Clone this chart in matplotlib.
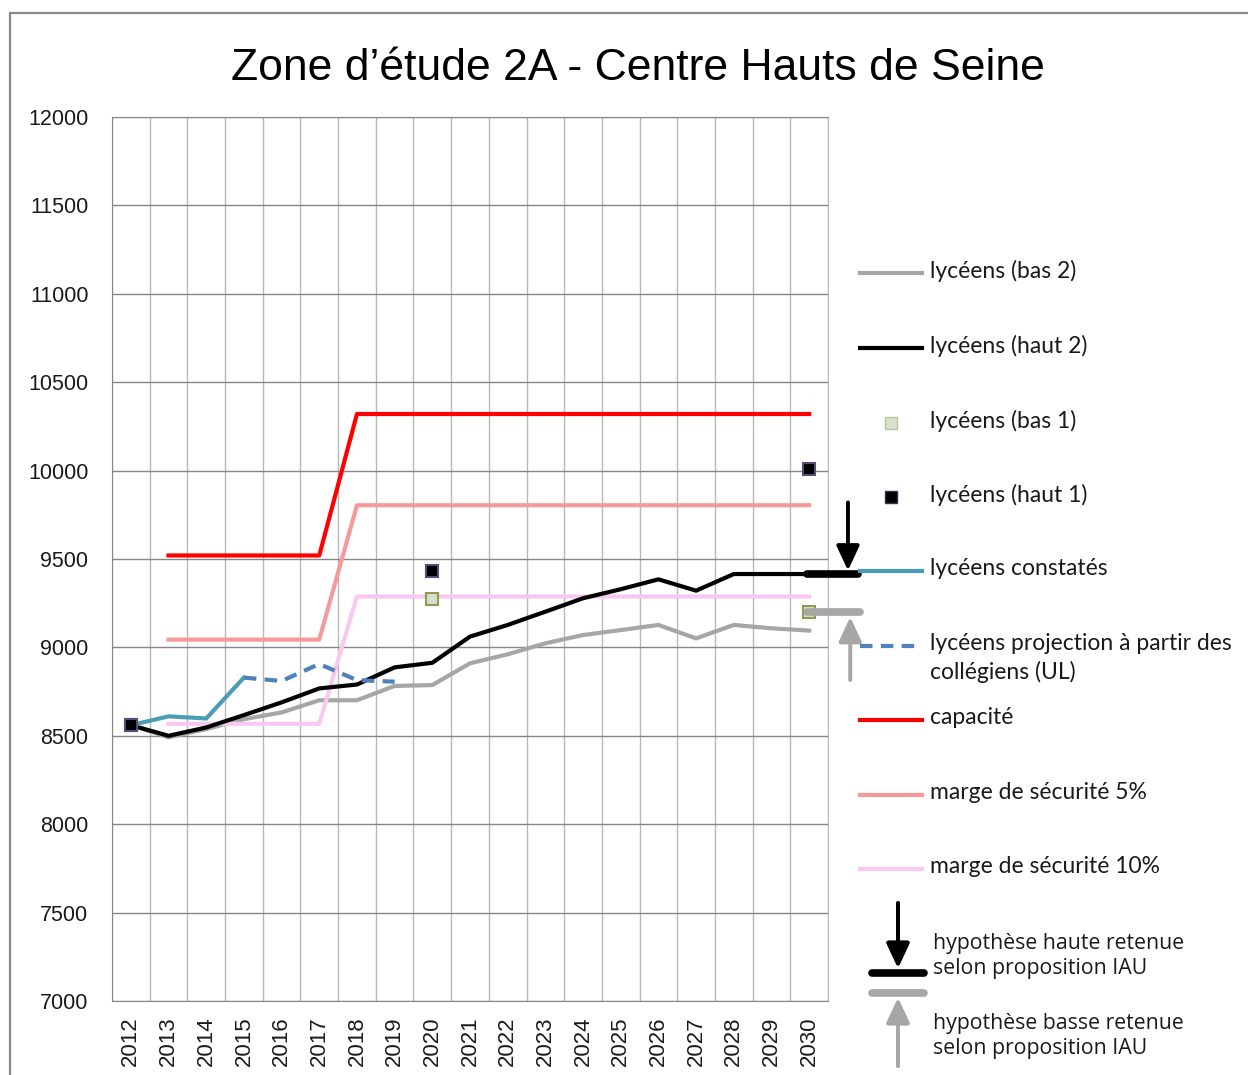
import matplotlib
matplotlib.use("Agg")
import matplotlib.pyplot as plt
import numpy as np
from matplotlib.lines import Line2D
from matplotlib.patches import Rectangle

nan = np.nan

years = [str(y) for y in range(2012, 2031)]

bas2 = [8560, 8491, 8538, 8594, 8632, 8701, 8701, 8782, 8787, 8910,
        8961, 9023, 9070, 9098, 9127, 9051, 9127, 9108, 9095]
haut2 = [8560, 8500, 8547, 8617, 8689, 8768, 8790, 8887, 8913, 9061,
         9127, 9202, 9278, 9329, 9385, 9321, 9415, 9415, 9415]
bas1 = [8560, nan, nan, nan, nan, nan, nan, nan, 9274, nan,
        nan, nan, nan, nan, nan, nan, nan, nan, 9202]
haut1 = [8560, nan, nan, nan, nan, nan, nan, nan, 9434, nan,
         nan, nan, nan, nan, nan, nan, nan, nan, 10010]
constates = [8560, 8610, 8598, 8829, nan, nan, nan, nan, nan, nan,
             nan, nan, nan, nan, nan, nan, nan, nan, nan]
projection = [nan, nan, nan, 8829, 8810, 8906, 8815, 8806, nan, nan,
              nan, nan, nan, nan, nan, nan, nan, nan, nan]
capacite = [nan, 9520, 9520, 9520, 9520, 9520, 10320, 10320, 10320, 10320,
            10320, 10320, 10320, 10320, 10320, 10320, 10320, 10320, 10320]
marge5 = [nan, 9044, 9044, 9044, 9044, 9044, 9804, 9804, 9804, 9804,
          9804, 9804, 9804, 9804, 9804, 9804, 9804, 9804, 9804]
marge10 = [nan, 8568, 8568, 8568, 8568, 8568, 9288, 9288, 9288, 9288,
           9288, 9288, 9288, 9288, 9288, 9288, 9288, 9288, 9288]

W, H = 1248, 1075
TXT = ['Lato', 'DejaVu Sans']
TXT2 = ['Open Sans', 'DejaVu Sans']

def px(x, y):
    return x / W, 1 - y / H

c_gray = '#a6a6a6'
c_teal = '#4a9db5'
c_blue = '#4f81bd'
c_red = '#ff0000'
c_pink = '#f59a9a'
c_lpink = '#f9c8f2'
c_txt = '#1a1a1a'

fig = plt.figure(figsize=(W / 100, H / 100), dpi=100)
fig.patch.set_facecolor('white')

# cadre gris autour du graphique
fig.add_artist(Rectangle(px(10, 1200), 1400 / W, (1200 - 13) / H, transform=fig.transFigure,
                         fill=False, edgecolor='#8a8a8a', linewidth=1.6))

ax = fig.add_axes([112 / W, 1 - 1001 / H, (828 - 112) / W, (1001 - 117) / H])
x = np.arange(len(years))
lw = 3.0

ax.plot(x, bas2, color=c_gray, lw=lw, zorder=3)
ax.plot(x, haut2, color='black', lw=lw, zorder=4)
ax.plot(x, bas1, ls='none', marker='s', ms=9, mfc='#d8dfcd', mec='#8e9c4e', mew=1.5, zorder=6)
ax.plot(x, haut1, ls='none', marker='s', ms=9, mfc='black', mec='#5a4a7a', mew=1.5, zorder=7)
ax.plot(x, constates, color=c_teal, lw=lw, zorder=5)
ax.plot(x, projection, color=c_blue, lw=lw, ls=(0, (3, 2)), zorder=5)
ax.plot(x, capacite, color=c_red, lw=lw, zorder=3)
ax.plot(x, marge5, color=c_pink, lw=lw, zorder=3)
ax.plot(x, marge10, color=c_lpink, lw=lw, zorder=3)

ax.set_xlim(-0.5, len(years) - 0.5)
ax.set_ylim(7000, 12000)
ax.set_yticks(np.arange(7000, 12001, 500))
ax.set_xticks(x)
ax.set_xticklabels(years, rotation=90, fontsize=16, family='Liberation Sans', color=c_txt)
ax.set_xticks(np.arange(-0.5, len(years), 1), minor=True)
for lab in ax.get_yticklabels():
    lab.set_fontsize(15.5)
    lab.set_family('Liberation Sans')
    lab.set_color(c_txt)
ax.tick_params(axis='both', which='both', length=0)
ax.tick_params(axis='y', pad=17)
ax.tick_params(axis='x', pad=11)
ax.grid(True, axis='y', which='major', color='#868686', lw=1)
ax.grid(True, axis='x', which='minor', color='#b8b8b8', lw=1)
ax.set_axisbelow(True)
for s in ['left', 'bottom', 'top']:
    ax.spines[s].set_color('#868686')
ax.spines['right'].set_color('#b8b8b8')

arrow = '-|>,head_width=0.7,head_length=1.5'

# hypotheses retenues a 2030
last = len(years) - 1
ax.plot([last - 0.05, last + 1.3], [haut2[last], haut2[last]], color='black', lw=5.5,
        solid_capstyle='round', clip_on=False, zorder=8)
ax.plot([last - 0.05, last + 1.35], [bas1[last], bas1[last]], color=c_gray, lw=5.5,
        solid_capstyle='round', clip_on=False, zorder=8)
ax.annotate('', xy=(last + 1.03, haut2[last] + 20), xytext=(last + 1.03, 9820),
            arrowprops=dict(arrowstyle=arrow, color='black', lw=2.8, shrinkA=0, shrinkB=0),
            annotation_clip=False)
ax.annotate('', xy=(last + 1.09, bas1[last] - 30), xytext=(last + 1.09, 8815),
            arrowprops=dict(arrowstyle=arrow, color=c_gray, lw=2.8, shrinkA=0, shrinkB=0),
            annotation_clip=False)

fig.text(*px(638, 68), 'Zone d\u2019étude 2A - Centre Hauts de Seine', ha='center', va='center',
         fontsize=32, family='Liberation Sans', color='black')

# legende
leg = [
    ('lycéens (bas 2)', 273, dict(color=c_gray, lw=lw)),
    ('lycéens (haut 2)', 348, dict(color='black', lw=lw)),
    ('lycéens (bas 1)', 423, dict(ls='none', marker='s', ms=8, mfc='#d8dfcd', mec='#b9c4a4', mew=1)),
    ('lycéens (haut 1)', 497, dict(ls='none', marker='s', ms=8, mfc='black', mec='#3a3050', mew=1)),
    ('lycéens constatés', 571, dict(color=c_teal, lw=lw)),
    ('lycéens projection à partir des\ncollégiens (UL)', 646, dict(color=c_blue, lw=lw, ls=(0, (3, 2)))),
    ('capacité', 720, dict(color=c_red, lw=lw)),
    ('marge de sécurité 5%', 795, dict(color=c_pink, lw=lw)),
    ('marge de sécurité 10%', 869, dict(color=c_lpink, lw=lw)),
]
for label, yy, style in leg:
    if style.get('ls') == 'none':
        fig.add_artist(Line2D([891 / W], [1 - yy / H], transform=fig.transFigure, **style))
    else:
        fig.add_artist(Line2D([860 / W, 922 / W], [1 - yy / H] * 2, transform=fig.transFigure, **style))
    fig.text(930 / W, 1 - (yy - 13) / H, label, ha='left', va='top', fontsize=16.5,
             family=TXT, color=c_txt, linespacing=1.4)

# legende des hypotheses
fig.add_artist(Line2D([872 / W, 924 / W], [1 - 973 / H] * 2, transform=fig.transFigure,
                      color='black', lw=5.5, solid_capstyle='round'))
fig.add_artist(Line2D([872 / W, 924 / W], [1 - 993 / H] * 2, transform=fig.transFigure,
                      color=c_gray, lw=5.5, solid_capstyle='round'))
fig.add_artist(plt.annotate('', xy=px(898, 968), xytext=px(898, 903), xycoords='figure fraction',
                            arrowprops=dict(arrowstyle=arrow, color='black', lw=2.8,
                                            shrinkA=0, shrinkB=0)))
fig.add_artist(plt.annotate('', xy=px(898, 998), xytext=px(898, 1066), xycoords='figure fraction',
                            arrowprops=dict(arrowstyle=arrow, color=c_gray, lw=2.8,
                                            shrinkA=0, shrinkB=0)))
fig.text(*px(933, 956), 'hypothèse haute retenue\nselon proposition IAU', ha='left', va='center',
         fontsize=15.3, family=TXT2, color=c_txt, linespacing=1.2)
fig.text(*px(933, 1036), 'hypothèse basse retenue\nselon proposition IAU', ha='left', va='center',
         fontsize=15.3, family=TXT2, color=c_txt, linespacing=1.2)

fig.savefig('out.png', dpi=100, facecolor='white')
